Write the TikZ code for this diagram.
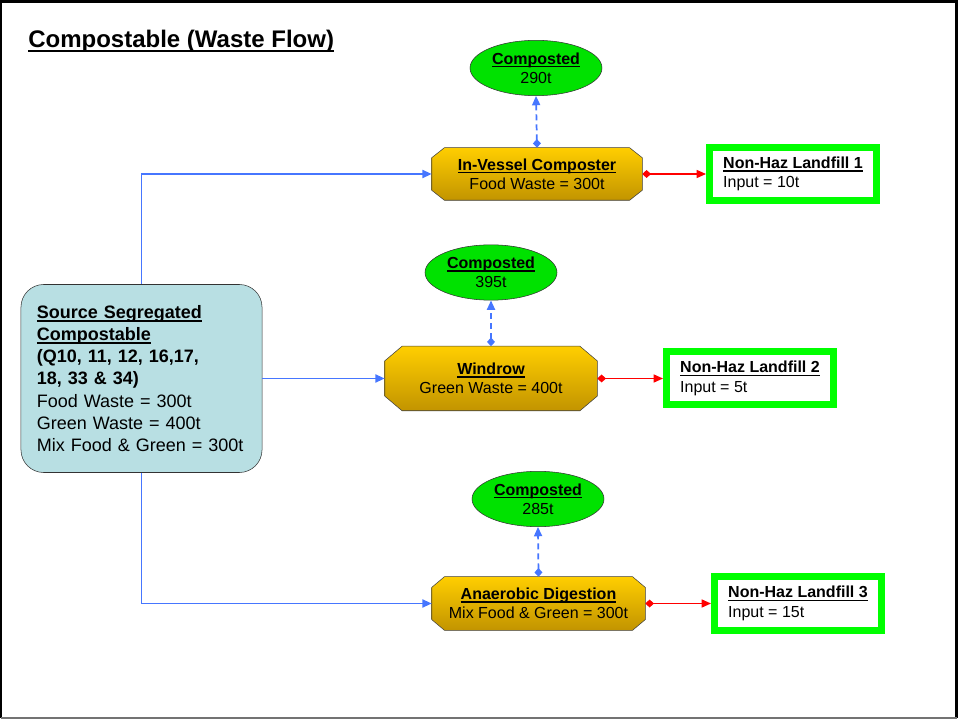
\documentclass[tikz,border=0pt]{standalone}
\usepackage{fontspec}
\setmainfont{Liberation Sans}
\usetikzlibrary{shapes.geometric,arrows.meta,backgrounds}
\definecolor{flowblue}{RGB}{70,118,255}
\definecolor{srcfill}{RGB}{184,223,227}
\definecolor{ellgreen}{RGB}{0,226,0}
\definecolor{boxgreen}{RGB}{0,255,0}
\definecolor{octtop}{RGB}{255,206,0}
\definecolor{octbot}{RGB}{194,148,0}
\newsavebox\myulbox
\newcommand{\myul}[3][-2.4pt]{\leavevmode\sbox\myulbox{\textbf{#3}}\rlap{\rule[#1]{\wd\myulbox}{#2}}\usebox\myulbox}
% octagon outline behind a named node: #1 node, #2 horizontal cut, #3 vertical cut
\newcommand{\octoshape}[3]{%
  \begin{pgfonlayer}{background}
  \path[draw=black!75, top color=octtop, bottom color=octbot]
    ([xshift=#2]#1.north west) -- ([xshift=-#2]#1.north east) -- ([yshift=-#3]#1.north east)
    -- ([yshift=#3]#1.south east) -- ([xshift=-#2]#1.south east) -- ([xshift=#2]#1.south west)
    -- ([yshift=#3]#1.south west) -- ([yshift=-#3]#1.north west) -- cycle;
  \end{pgfonlayer}}
\begin{document}
\begin{tikzpicture}[x=0.75pt,y=-0.75pt,
  octo/.style={rectangle, align=center, inner sep=0pt, font=\fontsize{12}{14.5}\selectfont},
  composted/.style={ellipse, draw=black!80, fill=ellgreen, minimum width=99pt, minimum height=41.5pt,
    inner sep=0pt, align=center, font=\fontsize{12}{14.5}\selectfont},
  landfill/.style={rectangle, draw=boxgreen, line width=5.25pt, fill=white, minimum width=125.25pt,
    minimum height=39.75pt, align=left, inner sep=0pt, font=\fontsize{12}{14.5}\selectfont},
  source/.style={rectangle, rounded corners=17pt, draw=black!80, fill=srcfill, text width=157pt,
    inner xsep=11.9pt, minimum height=141pt, align=left, font=\fontsize{13.5}{16.6}\selectfont},
  feed/.style={draw=flowblue, line width=1.4pt, -{Triangle[length=7pt,width=6pt]}},
  dashflow/.style={draw=flowblue, line width=1.3pt, dash pattern=on 4.5pt off 3pt,
    {Diamond[length=6.5pt,width=6pt]}-{Triangle[length=7pt,width=6pt]}},
  redflow/.style={draw=red, line width=1.1pt,
    {Diamond[length=6.5pt,width=6pt]}-{Triangle[length=7pt,width=6pt]}}
]
\useasboundingbox (0,0) rectangle (958,720);
% frame
\draw[black, line width=2pt] (1,718) -- (1,1.5) -- (956.5,1.5) -- (956.5,718);
\draw[black!55, line width=1.5pt] (1,717.5) -- (957,717.5);

% title
\node[anchor=base west, inner sep=0pt, font=\fontsize{18}{20}\selectfont] (title) at (28,48)
  {\myul[-3pt]{1.5pt}{Compostable (Waste Flow)}};

% source
\node[source] (src) at (141.5,378.5)
  {\myul{1.2pt}{Source Segregated}\\\myul{1.2pt}{Compostable}\\\textbf{(Q10, 11, 12, 16,17,}\\\textbf{18, 33 \& 34)}\\Food Waste = 300t\\Green Waste = 400t\\Mix Food \& Green = 300t};

% composted ellipses
\node[composted] (c1) at (536,68) {\myul{1.1pt}{Composted}\\290t};
\node[composted] (c2) at (491,272.5) {\myul{1.1pt}{Composted}\\395t};
\node[composted] (c3) at (538,499) {\myul{1.1pt}{Composted}\\285t};

% process octagons
\node[octo, minimum width=157.5pt, minimum height=39pt] (o1) at (537,174)
  {\myul{1.1pt}{In-Vessel Composter}\\Food Waste = 300t};
\octoshape{o1}{9.5pt}{7.5pt}
\node[octo, minimum width=159pt, minimum height=48pt] (o2) at (491,378.5)
  {\myul{1.1pt}{Windrow}\\Green Waste = 400t};
\octoshape{o2}{13pt}{11pt}
\node[octo, minimum width=159.75pt, minimum height=39.75pt] (o3) at (538.5,603.5)
  {\myul{1.1pt}{Anaerobic Digestion}\\Mix Food \& Green = 300t};
\octoshape{o3}{9.5pt}{8pt}

% landfills
\node[landfill] (l1) at (793,174) {\myul{1.1pt}{Non-Haz Landfill 1}\\Input = 10t};
\node[landfill] (l2) at (750,378.5) {\myul{1.1pt}{Non-Haz Landfill 2}\\Input = 5t};
\node[landfill] (l3) at (798,603.5) {\myul{1.1pt}{Non-Haz Landfill 3}\\Input = 15t};

% connectors
\draw[feed] (src.north) |- (o1.west);
\draw[feed] (src.east) -- (o2.west);
\draw[feed] (src.south) |- (o3.west);

\draw[dashflow] (o1.north) -- (c1.south);
\draw[dashflow] (o2.north) -- (c2.south);
\draw[dashflow] (o3.north) -- (c3.south);

\draw[redflow] (o1.east) -- (l1.west);
\draw[redflow] (o2.east) -- (l2.west);
\draw[redflow] (o3.east) -- (l3.west);
\end{tikzpicture}
\end{document}
